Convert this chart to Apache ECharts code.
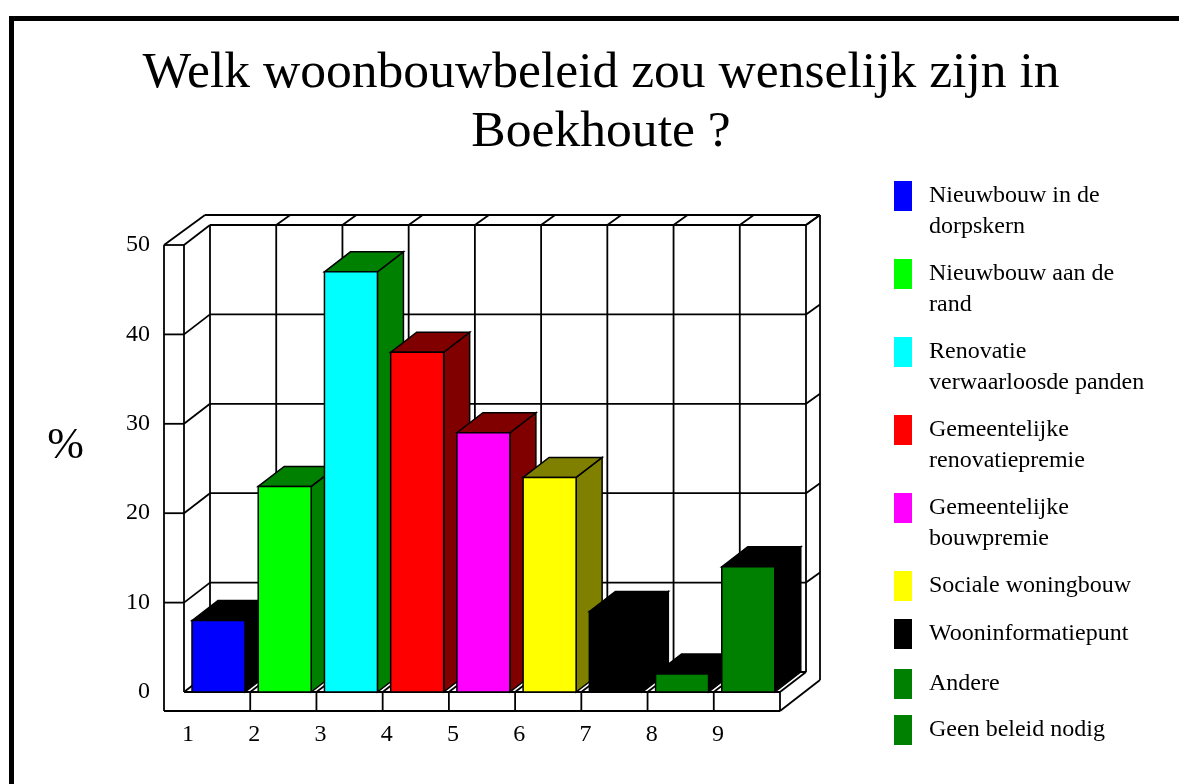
<!DOCTYPE html>
<html>
<head>
<meta charset="utf-8">
<title>Woonbouwbeleid Boekhoute</title>
<script src="https://cdn.jsdelivr.net/npm/echarts@6/dist/echarts.min.js"></script>
<style>
  html, body { margin: 0; padding: 0; background: #fff; }
  #chart { width: 1179px; height: 784px; }
</style>
</head>
<body>
<div id="chart"></div>
<script>
const categories = ['1', '2', '3', '4', '5', '6', '7', '8', '9']
const percentages = [8, 23, 47, 38, 29, 24, 9, 2, 14]
const yTicks = [10, 20, 30, 40, 50]
const legendNames = [
  'Nieuwbouw in de\ndorpskern',
  'Nieuwbouw aan de\nrand',
  'Renovatie\nverwaarloosde panden',
  'Gemeentelijke\nrenovatiepremie',
  'Gemeentelijke\nbouwpremie',
  'Sociale woningbouw',
  'Wooninformatiepunt',
  'Andere',
  'Geen beleid nodig'
]

// colours
const frontColors = ['#0000ff', '#00ff00', '#00ffff', '#ff0000', '#ff00ff', '#ffff00', '#000000', '#008000', '#008000']
const sideColors = ['#000000', '#008000', '#008000', '#800000', '#800000', '#808000', '#000000', '#000000', '#000000']

const FONT = '"Liberation Serif", "Times New Roman", serif'
// depth of the floor, and of the outer shell
const DX = 26, DY = -20
const OUT_X = 40, OUT_Y = -30
const PLATE_H = 19, PLATE_L = 20
const BAR_PAD = 8, BAR_W = 53
const LINE = { stroke: '#000', lineWidth: 1.8 }

function line(x1, y1, x2, y2) {
  return { type: 'line', shape: { x1, y1, x2, y2 }, style: LINE, silent: true }
}
function poly(points, fill) {
  return { type: 'polygon', shape: { points }, style: { fill, stroke: '#000', lineWidth: 1.5 }, silent: true }
}

// walls and floor of the box, taken from the axes
function renderFrame(params, api) {
  const bw = api.size([1, 0])[0]
  const xL = api.coord([0, 0])[0] - bw / 2
  const xR = api.coord([categories.length - 1, 0])[0] + bw / 2
  const y0 = api.coord([0, 0])[1]
  const yTop = api.coord([0, 50])[1]
  const kids = []

  // back wall
  kids.push(line(xL + DX, y0 + DY, xR + DX, y0 + DY))
  yTicks.forEach(function (t) {
    const y = api.coord([0, t])[1]
    kids.push(line(xL + DX, y + DY, xR + DX, y + DY))
    kids.push(line(xL, y, xL + DX, y + DY))
    kids.push(line(xL - PLATE_L, y, xL, y))
    kids.push(line(xR + DX, y + DY, xR + OUT_X, y + OUT_Y))
  })
  for (let i = 0; i <= categories.length; i++) {
    const x = xL + i * bw
    kids.push(line(x + DX, yTop + DY, x + DX, y0 + DY))
    kids.push(line(x, y0, x + DX, y0 + DY))
    if (i > 0) {
      kids.push(line(x + DX, yTop + DY, x + OUT_X, yTop + OUT_Y))
      kids.push(line(x, y0, x, y0 + PLATE_H))
    }
  }
  // left wall and outer shell
  kids.push(line(xL, yTop, xL, y0))
  kids.push(line(xL - PLATE_L, yTop, xL - PLATE_L, y0 + PLATE_H))
  kids.push(line(xL - PLATE_L, yTop, xL - PLATE_L + 41, yTop + OUT_Y))
  kids.push(line(xL - PLATE_L + 41, yTop + OUT_Y, xR + OUT_X, yTop + OUT_Y))
  kids.push(line(xR + OUT_X, yTop + OUT_Y, xR + OUT_X, y0 + PLATE_H + OUT_Y - 1))
  kids.push(line(xR, y0 + PLATE_H, xR + OUT_X, y0 + PLATE_H + OUT_Y - 1))
  // floor plate
  kids.push(line(xL, y0, xR, y0))
  kids.push(line(xL - PLATE_L, y0 + PLATE_H, xR, y0 + PLATE_H))
  return { type: 'group', children: kids }
}

function renderBar(params, api) {
  const i = params.dataIndex
  const bw = api.size([1, 0])[0]
  const left = api.coord([i, 0])[0] - bw / 2 + BAR_PAD
  const right = left + BAR_W
  const base = api.coord([i, 0])[1]
  const top = api.coord([i, api.value(1)])[1]
  const side = sideColors[i]
  return {
    type: 'group',
    children: [
      poly([[right, top], [right + DX, top + DY], [right + DX, base + DY], [right, base]], side),
      poly([[left, top], [left + DX, top + DY], [right + DX, top + DY], [right, top]], side),
      { type: 'rect', shape: { x: left, y: top, width: BAR_W, height: base - top },
        style: { fill: frontColors[i], stroke: '#000', lineWidth: 1.5 }, silent: true }
    ]
  }
}

// the legend keeps its swatch next to the first text line, so it is laid out by hand
function legendGraphic() {
  const rowTops = [181, 259, 337, 415, 493, 571, 619, 669, 715]
  const out = []
  legendNames.forEach(function (name, i) {
    out.push({ type: 'rect', left: 894, top: rowTops[i], shape: { width: 18, height: 30 }, style: { fill: frontColors[i] } })
    out.push({ type: 'text', x: 929, y: rowTops[i] - 1,
      style: { text: name, font: '24px ' + FONT, lineHeight: 31, fill: '#000', verticalAlign: 'top' } })
  })
  return out
}

const chart = echarts.init(document.getElementById('chart'), null, { renderer: 'canvas' })
chart.setOption({
  animation: false,
  backgroundColor: '#fff',
  title: {
    text: 'Welk woonbouwbeleid zou wenselijk zijn in\nBoekhoute ?',
    left: 596,
    top: 39,
    textAlign: 'center',
    textStyle: { fontFamily: FONT, fontSize: 51.6, fontWeight: 'normal', color: '#000', lineHeight: 59 }
  },
  grid: { left: 184, top: 245, width: 596, height: 447, containLabel: false },
  xAxis: {
    type: 'category',
    data: categories,
    axisLine: { show: false },
    axisTick: { show: false },
    axisLabel: { margin: 31, padding: [0, 58, 0, 0], color: '#000', fontFamily: FONT, fontSize: 24 }
  },
  yAxis: {
    type: 'value',
    min: 0,
    max: 50,
    interval: 10,
    name: '%',
    nameLocation: 'middle',
    nameRotate: 0,
    nameGap: 100,
    nameTextStyle: { color: '#000', fontFamily: FONT, fontSize: 44, verticalAlign: 'bottom' },
    axisLine: { show: false },
    axisTick: { show: false },
    splitLine: { show: false },
    axisLabel: { margin: 34, color: '#000', fontFamily: FONT, fontSize: 24 }
  },
  graphic: [
    { type: 'rect', left: 9, top: 16, shape: { width: 5, height: 768 }, style: { fill: '#000' } },
    { type: 'rect', left: 9, top: 16, shape: { width: 1170, height: 5 }, style: { fill: '#000' } }
  ].concat(legendGraphic()),
  series: [
    { type: 'custom', name: 'frame', z: 1, silent: true, renderItem: renderFrame, data: [[0, 0]], encode: { x: 0, y: 1 } },
    {
      type: 'custom',
      name: '%',
      z: 2,
      renderItem: renderBar,
      encode: { x: 0, y: 1 },
      data: percentages.map(function (v, i) { return [i, v] })
    }
  ]
})
</script>
</body>
</html>
